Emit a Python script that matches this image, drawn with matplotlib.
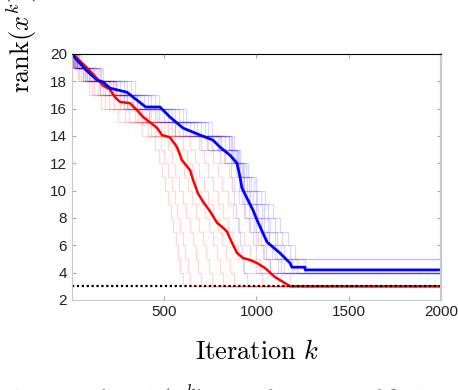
import numpy as np
import matplotlib.pyplot as plt

plt.rcParams['mathtext.fontset'] = 'cm'
plt.rcParams['font.family'] = 'Liberation Sans'

# mean rank curves (iteration, rank)
red_k = [0, 27, 81, 136, 168, 206, 233, 260, 314, 352, 385, 423, 461, 488, 531, 569,
         596, 640, 656, 683, 710, 748, 786, 818, 840, 867, 894, 927, 965, 1003, 1046,
         1100, 1144, 1182, 2000]
red_r = [20, 19.7, 19.0, 18.2, 17.7, 17.4, 16.85, 16.5, 16.4, 15.9, 15.4, 15.0, 14.6,
         14.07, 13.9, 13.2, 12.24, 11.5, 10.8, 9.8, 9.2, 8.5, 7.65, 7.3, 7.0, 6.2, 5.45,
         5.07, 4.93, 4.7, 4.34, 3.68, 3.32, 3.0, 3.0]

blue_k = [0, 27, 76, 136, 168, 206, 298, 352, 400, 477, 531, 602, 694, 764, 802, 856,
          894, 911, 921, 954, 981, 1003, 1057, 1127, 1182, 1192, 1263, 1264, 2000]
blue_r = [20, 19.56, 18.83, 18.09, 17.95, 17.5, 17.2, 16.63, 16.12, 16.12, 15.39, 14.58,
          14.07, 13.7, 13.19, 12.6, 12.02, 11.0, 10.2, 9.3, 8.58, 7.85, 6.24, 5.44, 4.7,
          4.4, 4.4, 4.2, 4.2]

# individual runs: iterations at which the rank drops by one (starting at 20)
red_runs = [
    [10, 40, 90, 160, 250, 380, 450, 470, 490, 505, 520, 535, 550, 562, 575, 588, 600],
    [5, 60, 120, 200, 290, 410, 480, 500, 520, 540, 556, 572, 588, 602, 615, 628, 640],
    [15, 35, 110, 180, 310, 430, 520, 540, 560, 580, 600, 620, 640, 655, 670, 685, 700],
    [20, 80, 150, 230, 340, 450, 560, 585, 610, 630, 650, 670, 690, 710, 728, 745, 760],
    [8, 70, 140, 260, 360, 480, 600, 625, 650, 675, 700, 722, 745, 765, 785, 803, 820],
    [25, 95, 170, 280, 380, 500, 640, 665, 690, 715, 740, 765, 790, 812, 835, 858, 880],
    [12, 50, 200, 300, 400, 520, 690, 715, 740, 765, 790, 818, 845, 872, 898, 925, 950],
    [30, 110, 210, 320, 420, 540, 740, 765, 790, 815, 845, 875, 905, 935, 965, 1000, 1030],
    [18, 130, 230, 330, 430, 560, 800, 825, 850, 878, 905, 935, 965, 1000, 1040, 1075, 1110],
    [40, 120, 240, 350, 460, 580, 850, 875, 900, 930, 960, 995, 1030, 1070, 1110, 1150, 1182],
]
blue_runs = [
    [10, 60, 150, 280, 420, 560, 700, 800, 860, 870, 880, 890, 900, 910, 920, 930],
    [20, 80, 180, 300, 450, 600, 730, 830, 890, 905, 920, 940, 960, 980, 1000, 1020],
    [5, 100, 200, 330, 470, 620, 760, 860, 900, 915, 935, 960, 985, 1010, 1035],
    [30, 90, 220, 350, 500, 640, 790, 870, 905, 925, 950, 975, 1000, 1025, 1050, 1075],
    [15, 120, 240, 370, 520, 660, 810, 880, 910, 935, 965, 995, 1025, 1055, 1085, 1115],
    [40, 140, 260, 390, 540, 680, 830, 890, 920, 950, 980, 1010, 1040, 1070, 1100, 1135],
    [8, 70, 280, 410, 560, 700, 850, 895, 925, 960, 995, 1030, 1065, 1100, 1135],
    [25, 150, 300, 430, 580, 720, 860, 900, 935, 970, 1005, 1040, 1075, 1110, 1150, 1192],
    [50, 160, 320, 450, 600, 740, 870, 905, 945, 985, 1025, 1065, 1100, 1140, 1180, 1220],
    [35, 170, 340, 470, 620, 760, 880, 910, 955, 1000, 1045, 1090, 1130, 1170, 1210, 1263],
]
target_rank = 3

fig = plt.figure(figsize=(4.58, 3.9), dpi=100)
ax = fig.add_axes([0.157, 0.2308, 0.806, 0.6308])

def run_xy(drops):
    ks = [0] + drops + [2000]
    rs = [20 - i for i in range(len(drops) + 1)]
    rs = rs + [rs[-1]]
    return ks, rs

for d in red_runs:
    ks, rs = run_xy(d)
    ax.step(ks, rs, where='post', color='red', alpha=0.15, lw=0.9)
for d in blue_runs:
    ks, rs = run_xy(d)
    ax.step(ks, rs, where='post', color='blue', alpha=0.15, lw=0.9)

ax.plot(red_k, red_r, color='#ff0000', lw=1.8)
ax.plot(blue_k, blue_r, color='#0000ff', lw=2.0)
ax.plot([0, 2000], [target_rank, target_rank], color='black', ls=(0, (1, 1.2)), lw=1.6)

ax.set_xlim(0, 2000)
ax.set_ylim(2, 20)
ax.set_xticks([500, 1000, 1500, 2000])
ax.set_yticks(np.arange(2, 21, 2))
ax.tick_params(direction='in', length=3, color='#aaaaaa', labelsize=11,
               labelcolor='#222222', top=True, right=True)
for s in ['left', 'bottom', 'right']:
    ax.spines[s].set_color('#c8c8c8')
ax.spines['right'].set_linewidth(1.6)
ax.spines['top'].set_color('black')

fig.text(0.046, 0.89, r'$\mathrm{rank}(x^k)$', rotation=90, fontsize=19,
         ha='center', va='center')
fig.text(0.561, 0.097, r'$\mathrm{Iteration}\ k$', fontsize=19, ha='center', va='center')
fig.text(0.0, 0.018, r'$\mathrm{olution\ of\ rank}(x^k)\mathrm{\ as\ a\ function\ of\ }k\mathrm{\ during\ the}$',
         fontsize=18, ha='left', va='top')

fig.savefig('out.png', dpi=100)
